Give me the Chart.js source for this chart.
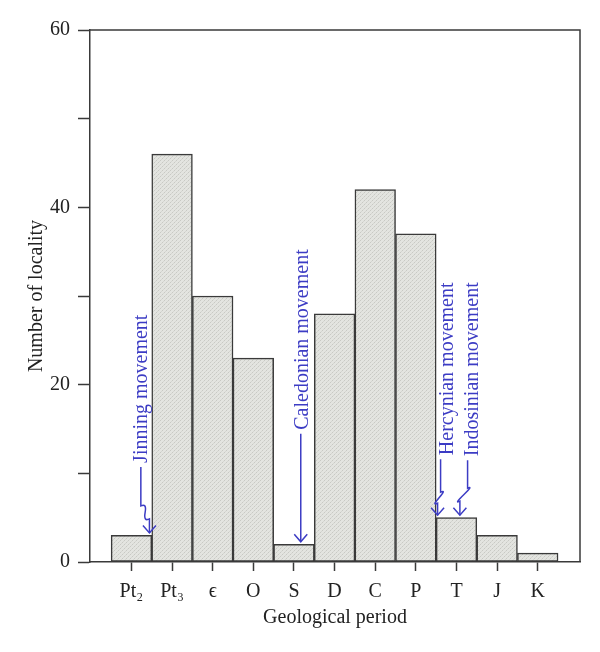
<!DOCTYPE html>
<html>
<head>
<meta charset="utf-8">
<script src="https://cdn.jsdelivr.net/npm/chart.js@4.4.0/dist/chart.umd.min.js"></script>
<style>
html, body { margin: 0; padding: 0; background: #fff; }
</style>
</head>
<body>
<canvas id="chart" width="600" height="652"></canvas>
<script>
const periods = ['Pt\u2082', 'Pt\u2083', '\u03F5', 'O', 'S', 'D', 'C', 'P', 'T', 'J', 'K'];
const localityCounts = [3, 46, 30, 23, 2, 28, 42, 37, 5, 3, 1];
const yTickLabels = [0, 20, 40, 60];
const movements = ['Jinning movement', 'Caledonian movement', 'Hercynian movement', 'Indosinian movement'];
const movementPeriods = ['Pt\u2082', 'S', 'T', 'T'];

// pixel offsets of each arrow / label from its period's bar
const movementLayout = [
    { tipDx: 18, upperDx: 9.4, textDx: 15.7, textGap: 70, bend: [27, 14] },
    { tipDx: 6.8, upperDx: 6.8, textDx: 14.1, textGap: 112, bend: null },
    { tipDx: -18.9, upperDx: -15.9, textDx: -3.6, textGap: 60, bend: [23, 12] },
    { tipDx: 3.4, upperDx: 11.1, textDx: 21.4, textGap: 59, bend: [27, 14] }
];

const serif = '"Liberation Serif", "DejaVu Serif", serif';
const ink = '#3a3a3a';
const textInk = '#222';
const blue = '#3c3cc4';

function stipple(ctx) {
    const c = document.createElement('canvas');
    c.width = 4; c.height = 4;
    const g = c.getContext('2d');
    g.fillStyle = '#e3e4e0';
    g.fillRect(0, 0, 4, 4);
    g.fillStyle = '#c8c9c4';
    g.fillRect(0, 0, 1, 1);
    g.fillRect(2, 2, 1, 1);
    g.fillStyle = '#d5d6d1';
    g.fillRect(1, 3, 1, 1);
    g.fillRect(3, 1, 1, 1);
    return ctx.createPattern(c, 'repeat');
}

const framePlugin = {
    id: 'frame',
    beforeDatasetsDraw(chart) {
        const { ctx, chartArea: a } = chart;
        ctx.save();
        ctx.strokeStyle = ink;
        ctx.lineWidth = 1.5;
        ctx.beginPath();
        ctx.moveTo(a.left, a.top);
        ctx.lineTo(a.right, a.top);
        ctx.lineTo(a.right, a.bottom);
        ctx.stroke();
        ctx.restore();
    }
};

const movementPlugin = {
    id: 'movements',
    afterDatasetsDraw(chart) {
        const { ctx } = chart;
        const xs = chart.scales.x, ys = chart.scales.y;
        ctx.save();
        ctx.strokeStyle = blue;
        ctx.fillStyle = blue;
        ctx.lineWidth = 1.5;
        ctx.font = '20px ' + serif;
        movements.forEach((name, k) => {
            const i = periods.indexOf(movementPeriods[k]);
            const L = movementLayout[k];
            const cx = xs.getPixelForValue(i);
            const tipX = cx + L.tipDx;
            const tipY = ys.getPixelForValue(localityCounts[i]) - 2.5;
            const ux = cx + L.upperDx;
            const textBottom = tipY - L.textGap;

            ctx.beginPath();
            ctx.moveTo(ux, textBottom + 4);
            if (L.bend) {
                // small S-shaped break between the two vertical pieces
                const y0 = tipY - L.bend[0], y1 = tipY - L.bend[1];
                const my = (y0 + y1) / 2;
                ctx.lineTo(ux, y0);
                ctx.quadraticCurveTo(ux + 6, y0 - 3, (ux + tipX) / 2, my);
                ctx.quadraticCurveTo(tipX - 6, y1 + 3, tipX, y1);
            }
            ctx.lineTo(tipX, tipY);
            ctx.stroke();

            ctx.beginPath();
            ctx.moveTo(tipX - 6.5, tipY - 7.5);
            ctx.lineTo(tipX, tipY);
            ctx.lineTo(tipX + 6.5, tipY - 7.5);
            ctx.stroke();

            ctx.save();
            ctx.translate(cx + L.textDx, textBottom);
            ctx.rotate(-Math.PI / 2);
            ctx.textAlign = 'left';
            ctx.textBaseline = 'alphabetic';
            ctx.fillText(name, 0, 0);
            ctx.restore();
        });
        ctx.restore();
    }
};

const canvas = document.getElementById('chart');
const ctx = canvas.getContext('2d');

new Chart(ctx, {
    type: 'bar',
    data: {
        datasets: [{
            data: localityCounts.map((v, i) => ({ x: i, y: v })),
            backgroundColor: stipple(ctx),
            borderColor: ink,
            borderWidth: 1.5,
            borderSkipped: false,
            barPercentage: 1,
            categoryPercentage: 1
        }]
    },
    options: {
        responsive: false,
        animation: false,
        devicePixelRatio: 1,
        layout: { padding: { top: 30, right: 20, left: 0, bottom: 0 } },
        plugins: {
            legend: { display: false },
            tooltip: { enabled: false }
        },
        scales: {
            x: {
                type: 'linear',
                offset: false,
                min: -1.02,
                max: 11.04,
                afterBuildTicks: axis => { axis.ticks = periods.map((p, i) => ({ value: i })); },
                afterFit: axis => { axis.height = 90; },
                grid: { offset: false, drawOnChartArea: false, tickLength: 9, color: ink, tickWidth: 1.5 },
                border: { display: true, color: ink, width: 1.5 },
                ticks: {
                    callback: v => periods[v],
                    color: textInk,
                    font: { family: serif, size: 20 },
                    padding: 9,
                    autoSkip: false,
                    maxRotation: 0
                },
                title: {
                    display: true,
                    text: 'Geological period',
                    color: textInk,
                    font: { family: serif, size: 20 },
                    padding: { top: 0, bottom: 22 }
                }
            },
            y: {
                min: 0,
                max: 60,
                afterFit: axis => { axis.width = 90; },
                grid: { drawOnChartArea: false, tickLength: 12, color: ink, tickWidth: 1.5 },
                border: { display: true, color: ink, width: 1.5 },
                ticks: {
                    stepSize: 10,
                    callback: v => yTickLabels.includes(v) ? v : '',
                    color: textInk,
                    font: { family: serif, size: 20 },
                    padding: 8
                },
                title: {
                    display: true,
                    text: 'Number of locality',
                    color: textInk,
                    font: { family: serif, size: 20 },
                    padding: { top: 25, bottom: 0 }
                }
            }
        }
    },
    plugins: [framePlugin, movementPlugin]
});
</script>
</body>
</html>
